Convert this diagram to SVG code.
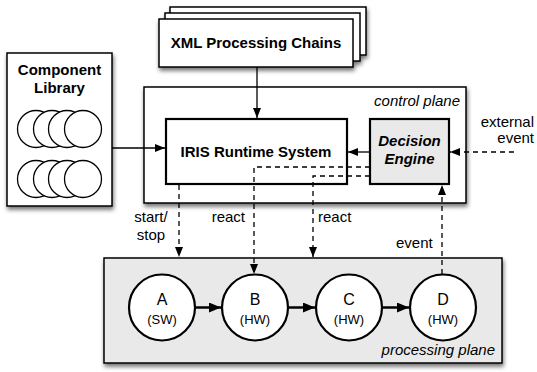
<svg xmlns="http://www.w3.org/2000/svg" width="537" height="372" viewBox="0 0 537 372">
  <defs>
    <filter id="shadow" x="-10%" y="-10%" width="125%" height="130%">
      <feDropShadow dx="1" dy="3" stdDeviation="2" flood-color="#000" flood-opacity="0.55"/>
    </filter>
    <marker id="arrow" viewBox="0 0 10 8" refX="10" refY="4" markerWidth="10" markerHeight="8" markerUnits="userSpaceOnUse" orient="auto">
      <path d="M0,0 L10,4 L0,8 Z" fill="#000"/>
    </marker>
    <marker id="arrowBig" viewBox="0 0 12 10" refX="12" refY="5" markerWidth="12" markerHeight="10" markerUnits="userSpaceOnUse" orient="auto">
      <path d="M0,0 L12,5 L0,10 Z" fill="#000"/>
    </marker>
  </defs>
  <style>
    .box { fill: #fff; stroke: #000; stroke-width: 1.5; }
    .inner { stroke: #000; stroke-width: 2.2; }
    .plane { fill: #e9e9e9; stroke: #000; stroke-width: 1.5; }
    .lib { fill: #fff; stroke: #000; stroke-width: 1.3; }
    .proc { fill: #fff; stroke: #000; stroke-width: 2.2; }
    .title { font-family: "Liberation Sans", Arial, sans-serif; font-size: 15px; font-weight: bold; text-anchor: middle; }
    .label { font-family: "Liberation Sans", Arial, sans-serif; font-size: 15px; fill: #000; }
    .ital { font-family: "Liberation Sans", Arial, sans-serif; font-size: 15px; font-style: italic; text-anchor: end; }
    .node { font-family: "Liberation Sans", Arial, sans-serif; font-size: 16px; text-anchor: middle; }
    .sub { font-family: "Liberation Sans", Arial, sans-serif; font-size: 13px; text-anchor: middle; }
    .solid { fill: none; stroke: #000; stroke-width: 1.3; marker-end: url(#arrow); }
    .dash { fill: none; stroke: #000; stroke-width: 1.3; stroke-dasharray: 5 4; marker-end: url(#arrow); }
    .flow { fill: none; stroke: #000; stroke-width: 2.5; marker-end: url(#arrowBig); }
  </style>

  <!-- XML processing chains: stacked sheets -->
  <g id="xml-chains">
    <g filter="url(#shadow)">
      <rect class="box" x="170" y="7" width="196" height="48"/>
      <rect class="box" x="165" y="13" width="195" height="48"/>
      <rect class="box" x="159" y="19" width="194" height="48"/>
    </g>
    <text class="title" x="256" y="48">XML Processing Chains</text>
  </g>

  <!-- Component library -->
  <g id="component-library">
    <rect class="box" x="7" y="53" width="105" height="153" filter="url(#shadow)"/>
    <text class="title" x="59.5" y="75">Component</text>
    <text class="title" x="59.5" y="93">Library</text>
    <circle class="lib" cx="36" cy="129" r="18.5"/>
    <circle class="lib" cx="52" cy="129" r="18.5"/>
    <circle class="lib" cx="67" cy="129" r="18.5"/>
    <circle class="lib" cx="83" cy="129" r="18.5"/>
    <circle class="lib" cx="36" cy="179" r="18.5"/>
    <circle class="lib" cx="52" cy="179" r="18.5"/>
    <circle class="lib" cx="67" cy="179" r="18.5"/>
    <circle class="lib" cx="83" cy="179" r="18.5"/>
  </g>

  <!-- Control plane -->
  <g id="control-plane">
    <rect class="box" x="144" y="87" width="322" height="116" filter="url(#shadow)"/>
    <text class="ital" x="460" y="106">control plane</text>
  </g>

  <g id="iris-runtime">
    <rect class="inner" fill="#fff" x="166" y="119" width="181" height="65"/>
    <text class="title" x="256" y="157">IRIS Runtime System</text>
  </g>

  <g id="decision-engine">
    <rect class="inner" fill="#e9e9e9" x="370" y="119" width="79" height="65"/>
    <text class="title" x="409.5" y="146" font-style="italic">Decision</text>
    <text class="title" x="409.5" y="164" font-style="italic">Engine</text>
  </g>

  <!-- Processing plane -->
  <g id="processing-plane">
    <rect class="plane" x="104" y="258" width="398" height="105" filter="url(#shadow)"/>
    <text class="ital" x="495" y="355">processing plane</text>
  </g>

  <g id="node-a">
    <circle class="proc" cx="162" cy="307.5" r="33"/>
    <text class="node" x="162" y="305">A</text>
    <text class="sub" x="162" y="324">(SW)</text>
  </g>
  <g id="node-b">
    <circle class="proc" cx="255" cy="307.5" r="33"/>
    <text class="node" x="255" y="305">B</text>
    <text class="sub" x="255" y="324">(HW)</text>
  </g>
  <g id="node-c">
    <circle class="proc" cx="349" cy="307.5" r="33"/>
    <text class="node" x="349" y="305">C</text>
    <text class="sub" x="349" y="324">(HW)</text>
  </g>
  <g id="node-d">
    <circle class="proc" cx="443" cy="307.5" r="33"/>
    <text class="node" x="443" y="305">D</text>
    <text class="sub" x="443" y="324">(HW)</text>
  </g>

  <!-- Connectors -->
  <g id="connectors">
    <path class="solid" d="M257,67 V118"/>
    <path class="solid" d="M112,148 H165"/>
    <path class="solid" d="M370,152 H348"/>
    <path class="dash" d="M514,152 H450"/>
    <path class="dash" d="M179,185 V257"/>
    <path class="dash" d="M370,167 H254 V274"/>
    <path class="dash" d="M370,176 H313 V257"/>
    <path class="dash" d="M442,274 V185"/>
    <path class="flow" d="M195,307.5 H221"/>
    <path class="flow" d="M288,307.5 H315"/>
    <path class="flow" d="M382,307.5 H409"/>
  </g>

  <!-- Connector labels -->
  <g id="connector-labels">
    <text class="label" x="534" y="127" text-anchor="end">external</text>
    <text class="label" x="534" y="143" text-anchor="end">event</text>
    <text class="label" x="151" y="222" text-anchor="middle">start/</text>
    <text class="label" x="151" y="240" text-anchor="middle">stop</text>
    <text class="label" x="245" y="222" text-anchor="end">react</text>
    <text class="label" x="318" y="222">react</text>
    <text class="label" x="396" y="248">event</text>
  </g>
</svg>
